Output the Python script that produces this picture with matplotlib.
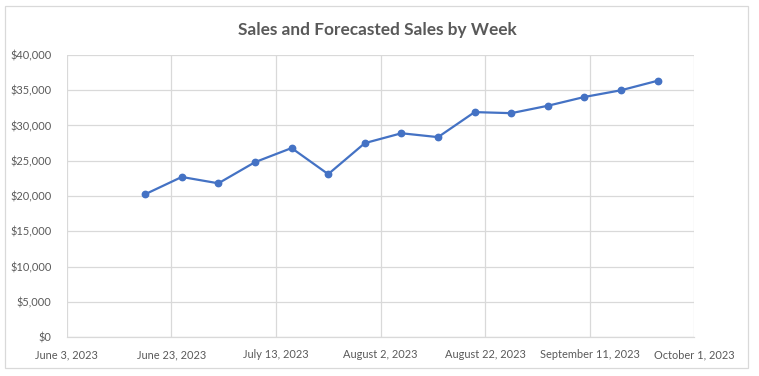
# weekly sales line chart, Excel-style

import datetime as dt
import matplotlib
matplotlib.use("Agg")
import matplotlib.pyplot as plt
from matplotlib.patches import Rectangle

# ── data ──────────────────────────────────────────────────────────────────────
week_starts = [
    "2023-06-18", "2023-06-25", "2023-07-02", "2023-07-09", "2023-07-16",
    "2023-07-23", "2023-07-30", "2023-08-06", "2023-08-13", "2023-08-20",
    "2023-08-27", "2023-09-03", "2023-09-10", "2023-09-17", "2023-09-24",
]
sales = [
    20250, 22700, 21800, 24800, 26800,
    23100, 27500, 28900, 28350, 31900,
    31750, 32800, 34050, 35000, 36350,
]
tick_dates = [
    "2023-06-03", "2023-06-23", "2023-07-13", "2023-08-02",
    "2023-08-22", "2023-09-11", "2023-10-01",
]
tick_labels = [
    "June 3, 2023", "June 23, 2023", "July 13, 2023", "August 2, 2023",
    "August 22, 2023", "September 11, 2023", "October 1, 2023",
]
y_ticks = list(range(0, 40001, 5000))

dates = [dt.datetime.strptime(d, "%Y-%m-%d") for d in week_starts]
ticks = [dt.datetime.strptime(d, "%Y-%m-%d") for d in tick_dates]

plt.rcParams["font.family"] = ["Lato", "DejaVu Sans"]
TEXT = "#595959"
GRID = "#D9D9D9"

fig = plt.figure(figsize=(7.59, 3.76), dpi=100)
ax = fig.add_axes([66.7 / 759, 39 / 376, (694.3 - 66.7) / 759, (337 - 55) / 376])

ax.plot(dates, sales, color="#4472C4", linewidth=1.6,
        marker="o", markersize=4.6, zorder=3)

ax.set_xlim(ticks[0], ticks[-1])
ax.set_ylim(0, 40000)
ax.set_xticks(ticks)
ax.set_xticklabels(tick_labels)
ax.set_yticks(y_ticks)
ax.yaxis.set_major_formatter(plt.FuncFormatter(lambda v, _: f"${int(v):,}"))

ax.tick_params(axis="both", length=0, labelsize=7.9, labelcolor=TEXT)
ax.tick_params(axis="x", pad=9)
ax.tick_params(axis="y", pad=11)

ax.grid(True, color=GRID, linewidth=0.9)
ax.set_axisbelow(True)
for side in ["top", "right", "left"]:
    ax.spines[side].set_visible(False)
ax.spines["bottom"].set_color(GRID)
ax.spines["bottom"].set_linewidth(0.9)

fig.text(377 / 759, 1 - 30 / 376, "Sales and Forecasted Sales by Week",
         ha="center", va="center", fontsize=12.4, fontweight="bold", color=TEXT)

# chart area frame
fig.patches.append(Rectangle((5 / 759, 1 - 368 / 376), 743 / 759, 362 / 376,
                             transform=fig.transFigure, fill=False,
                             edgecolor=GRID, linewidth=0.9))

fig.savefig("out.png", dpi=100)
